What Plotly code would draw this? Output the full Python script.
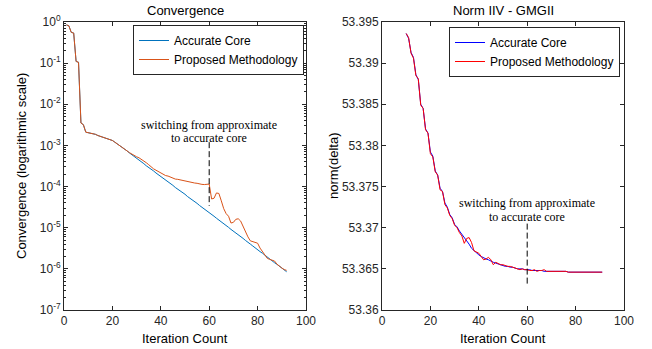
import plotly.graph_objects as go

# ---------------- data ----------------
iters_left = list(range(1, 93))
accurate_conv = [
    0.85, 0.81, 0.56, 0.54, 0.11, 0.105, 3.5e-3, 3.2e-3, 2.1e-3, 2.05e-3,
    2.0e-3, 1.95e-3, 1.86e-3, 1.74e-3, 1.66e-3, 1.58e-3, 1.51e-3, 1.45e-3, 1.38e-3, 1.32e-3,
    1.20e-3, 1.10e-3, 1.00e-3, 8.9e-4, 8.1e-4, 7.4e-4, 6.6e-4, 6.0e-4, 5.4e-4, 4.9e-4,
    4.5e-4, 4.0e-4, 3.6e-4, 3.2e-4, 2.95e-4, 2.63e-4, 2.40e-4, 2.14e-4, 1.95e-4, 1.78e-4,
    1.58e-4, 1.45e-4, 1.29e-4, 1.17e-4, 1.07e-4, 9.5e-5, 8.7e-5, 7.9e-5, 7.1e-5, 6.5e-5,
    5.75e-5, 5.25e-5, 4.8e-5, 4.27e-5, 3.9e-5, 3.47e-5, 3.16e-5, 2.9e-5, 2.57e-5, 2.34e-5,
    2.09e-5, 1.9e-5, 1.7e-5, 1.55e-5, 1.38e-5, 1.26e-5, 1.12e-5, 1.02e-5, 9.1e-6, 8.3e-6,
    7.4e-6, 6.8e-6, 6.0e-6, 5.5e-6, 4.9e-6, 4.5e-6, 4.0e-6, 3.6e-6, 3.2e-6, 2.95e-6,
    2.63e-6, 2.4e-6, 2.14e-6, 1.95e-6, 1.74e-6, 1.58e-6, 1.41e-6, 1.29e-6, 1.15e-6, 1.05e-6,
    9.3e-7, 8.5e-7,
]
proposed_conv = [
    0.85, 0.81, 0.56, 0.54, 0.11, 0.105, 3.5e-3, 3.2e-3, 2.1e-3, 2.05e-3,
    2.0e-3, 1.95e-3, 1.86e-3, 1.74e-3, 1.66e-3, 1.58e-3, 1.51e-3, 1.45e-3, 1.38e-3, 1.32e-3,
    1.20e-3, 1.10e-3, 1.00e-3, 8.9e-4, 8.1e-4, 7.4e-4, 6.7e-4, 6.1e-4, 5.6e-4, 5.3e-4,
    5.0e-4, 4.6e-4, 4.2e-4, 3.8e-4, 3.4e-4, 3.0e-4, 2.7e-4, 2.5e-4, 2.3e-4, 2.1e-4,
    2.0e-4, 1.85e-4, 1.8e-4, 1.7e-4, 1.62e-4, 1.52e-4, 1.5e-4, 1.45e-4, 1.4e-4, 1.36e-4,
    1.33e-4, 1.3e-4, 1.25e-4, 1.22e-4, 1.2e-4, 1.15e-4, 1.13e-4, 1.12e-4, 1.13e-4, 1.15e-4,
    5.0e-5, 5.2e-5, 7.0e-5, 6.8e-5, 4.5e-5, 2.9e-5, 2.2e-5, 1.9e-5, 1.3e-5, 1.35e-5,
    1.6e-5, 1.65e-5, 1.45e-5, 1.05e-5, 7.5e-6, 6.0e-6, 4.8e-6, 4.6e-6, 4.4e-6, 4.2e-6,
    3.2e-6, 2.7e-6, 2.2e-6, 1.8e-6, 1.7e-6, 1.6e-6, 1.55e-6, 1.3e-6, 1.15e-6, 1.05e-6,
    9.6e-7, 9.2e-7,
]

iters_right = list(range(10, 92))
accurate_norm = [
    53.3936, 53.3930, 53.3913, 53.3907, 53.3886, 53.3880, 53.3850, 53.3845, 53.3820, 53.3815,
    53.3792, 53.3787, 53.3769, 53.3764, 53.3748, 53.3744, 53.3730, 53.3725, 53.3716, 53.3712,
    53.3704, 53.3701, 53.3696, 53.3692, 53.3688, 53.3685, 53.3680, 53.3675, 53.3672, 53.3669,
    53.3667, 53.3665, 53.3663, 53.3662, 53.3661, 53.3659, 53.3658, 53.3657, 53.3656, 53.3655,
    53.3654, 53.3653, 53.3653, 53.3652, 53.3652, 53.3651, 53.3650, 53.3650, 53.3650, 53.3649,
    53.3649, 53.3649, 53.3648, 53.3648, 53.3648, 53.3648, 53.3648, 53.3647, 53.3647, 53.3647,
    53.3647, 53.3647, 53.3647, 53.3647, 53.3647, 53.3647, 53.3647, 53.3646, 53.3646, 53.3646,
    53.3646, 53.3646, 53.3646, 53.3646, 53.3646, 53.3646, 53.3646, 53.3646, 53.3646, 53.3646,
    53.3646, 53.3646,
]
proposed_norm = [
    53.3936, 53.3931, 53.3912, 53.3906, 53.3885, 53.3881, 53.3849, 53.3845, 53.3819, 53.3815,
    53.3790, 53.3786, 53.3768, 53.3764, 53.3746, 53.3744, 53.3728, 53.3724, 53.3715, 53.3711,
    53.3703, 53.3700, 53.3694, 53.3690, 53.3681, 53.3687, 53.3688, 53.3682, 53.3672, 53.3670,
    53.3669, 53.3665, 53.3661, 53.3662, 53.3664, 53.3661, 53.3655, 53.3658, 53.3656, 53.3655,
    53.3655, 53.3654, 53.3653, 53.3653, 53.3652, 53.3651, 53.3650, 53.3649, 53.3650, 53.3649,
    53.3649, 53.3648, 53.3648, 53.3649, 53.3647, 53.3648, 53.3648, 53.3649, 53.3647, 53.3647,
    53.3647, 53.3647, 53.3647, 53.3647, 53.3647, 53.3647, 53.3647, 53.3646, 53.3646, 53.3646,
    53.3646, 53.3646, 53.3646, 53.3646, 53.3646, 53.3646, 53.3646, 53.3646, 53.3646, 53.3646,
    53.3646, 53.3646,
]

x_ticks = [0, 20, 40, 60, 80, 100]
left_y_tickvals = [1e0, 1e-1, 1e-2, 1e-3, 1e-4, 1e-5, 1e-6, 1e-7]
left_y_ticktext = ["10<sup>0</sup>", "10<sup>-1</sup>", "10<sup>-2</sup>", "10<sup>-3</sup>",
                   "10<sup>-4</sup>", "10<sup>-5</sup>", "10<sup>-6</sup>", "10<sup>-7</sup>"]
right_y_tickvals = [53.36, 53.365, 53.37, 53.375, 53.38, 53.385, 53.39, 53.395]
right_y_ticktext = ["53.36", "53.365", "53.37", "53.375", "53.38", "53.385", "53.39", "53.395"]

switch_iter = 60
left_switch_span = [1.2e-3, 3.4e-5]
right_switch_span = [53.3705, 53.3629]

# ---------------- figure ----------------
W, H = 652, 349
AX = "#262626"
FONT = "Liberation Sans, Arial, Helvetica, sans-serif"
SERIF = "Liberation Serif, Times New Roman, serif"

fig = go.Figure()

fig.add_trace(go.Scatter(x=iters_left, y=accurate_conv, mode="lines", name="Accurate Core",
                         line=dict(color="#0072BD", width=1), xaxis="x", yaxis="y", legend="legend"))
fig.add_trace(go.Scatter(x=iters_left, y=proposed_conv, mode="lines", name="Proposed Methodology",
                         line=dict(color="#D95319", width=1), xaxis="x", yaxis="y", legend="legend"))
fig.add_trace(go.Scatter(x=[switch_iter, switch_iter], y=left_switch_span, mode="lines",
                         line=dict(color="black", width=1, dash="6px,3px"), showlegend=False,
                         xaxis="x", yaxis="y", hoverinfo="skip"))

fig.add_trace(go.Scatter(x=iters_right, y=accurate_norm, mode="lines", name="Accurate Core",
                         line=dict(color="#0000FF", width=1), xaxis="x2", yaxis="y2", legend="legend2"))
fig.add_trace(go.Scatter(x=iters_right, y=proposed_norm, mode="lines", name="Proposed Methodology",
                         line=dict(color="#FF0000", width=1), xaxis="x2", yaxis="y2", legend="legend2"))
fig.add_trace(go.Scatter(x=[switch_iter, switch_iter], y=right_switch_span, mode="lines",
                         line=dict(color="black", width=1, dash="6px,3px"), showlegend=False,
                         xaxis="x2", yaxis="y2", hoverinfo="skip"))

ydom = [39 / H, 327 / H]
common_axis = dict(showline=True, linecolor=AX, linewidth=1, mirror="ticks", ticks="inside",
                   ticklen=4, tickcolor=AX, showgrid=False, zeroline=False, automargin=False,
                   tickfont=dict(family=FONT, size=12, color=AX))

fig.update_layout(
    template="none",
    width=W, height=H, margin=dict(l=0, r=0, t=0, b=0, autoexpand=False),
    paper_bgcolor="white", plot_bgcolor="white",
    font=dict(family=FONT, size=12, color=AX),
    xaxis=dict(domain=[64 / W, 306 / W], range=[0, 100], tickvals=x_ticks, anchor="y", **common_axis),
    yaxis=dict(domain=ydom, type="log", range=[-7, 0], tickvals=left_y_tickvals,
               ticktext=left_y_ticktext, anchor="x",
               minor=dict(ticks="inside", ticklen=2, tickcolor=AX, dtick="D1", showgrid=False),
               **common_axis),
    xaxis2=dict(domain=[382 / W, 624 / W], range=[0, 100], tickvals=x_ticks, anchor="y2", **common_axis),
    yaxis2=dict(domain=ydom, range=[53.36, 53.395], tickvals=right_y_tickvals,
                ticktext=right_y_ticktext, anchor="x2", **common_axis),
    legend=dict(x=304 / W, y=(H - 25) / H, xanchor="right", yanchor="top",
                bordercolor=AX, borderwidth=1, bgcolor="white",
                font=dict(family=FONT, size=12, color="black"),
                tracegroupgap=0, itemwidth=30),
    legend2=dict(x=620 / W, y=(H - 27) / H, xanchor="right", yanchor="top",
                 bordercolor=AX, borderwidth=1, bgcolor="white",
                 font=dict(family=FONT, size=12, color="black"),
                 tracegroupgap=0, itemwidth=30),
    showlegend=True,
)

ann = []
def txt(text, x, y, size=13, family=FONT, angle=0, color="black"):
    ann.append(dict(text=text, x=x / W, y=(H - y) / H, xref="paper", yref="paper",
                    showarrow=False, xanchor="center", yanchor="middle", textangle=angle,
                    font=dict(family=family, size=size, color=color)))

txt("Convergence", 185, 10)
txt("Norm IIV - GMGII", 503, 10)
txt("Iteration Count", 185, 338)
txt("Iteration Count", 503, 338)
txt("Convergence (logarithmic scale)", 21, 166, angle=-90)
txt("norm(delta)", 333, 166, angle=-90)
txt("switching from approximate", 209, 125, size=12, family=SERIF)
txt("to accurate core", 209, 138, size=12, family=SERIF)
txt("switching from approximate", 527, 203, size=12, family=SERIF)
txt("to accurate core", 527, 217, size=12, family=SERIF)
fig.update_layout(annotations=ann)

fig.write_html("out.html")
